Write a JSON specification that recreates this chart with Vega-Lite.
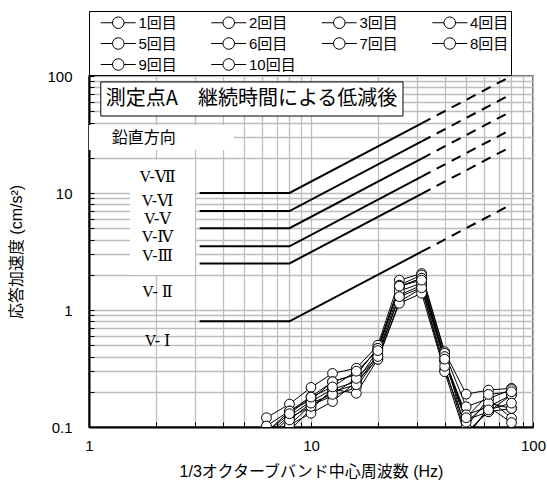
{
  "$schema": "https://vega.github.io/schema/vega-lite/v6.json",
  "width": 444,
  "height": 351,
  "autosize": {"type": "none"},
  "padding": {"left": 89, "top": 76, "right": 14, "bottom": 61},
  "config": {
    "view": {"stroke": "#333333", "strokeWidth": 1.5},
    "font": "Liberation Sans, Noto Sans CJK JP",
    "axis": {
      "grid": true,
      "gridColor": "#bdbdbd",
      "gridWidth": 1.3,
      "domainColor": "black",
      "domainWidth": 2,
      "tickColor": "black",
      "tickSize": -5,
      "labelFontSize": 15,
      "labelColor": "black",
      "labelFont": "Liberation Sans",
      "labelOverlap": false,
      "labelFlush": false,
      "titleFontSize": 16,
      "titleFontWeight": "normal",
      "titleColor": "black",
      "titleFont": "Liberation Sans, Noto Sans CJK JP"
    }
  },
  "datasets": {
    "meas": [
      {"f": 6.3, "1回目": 0.12, "2回目": 0.102, "3回目": 0.085, "4回目": 0.07, "5回目": 0.075, "6回目": 0.06, "7回目": 0.09, "8回目": 0.08, "9回目": 0.07, "10回目": 0.09},
      {"f": 8, "1回目": 0.157, "2回目": 0.137, "3回目": 0.125, "4回目": 0.104, "5回目": 0.093, "6回目": 0.104, "7回目": 0.137, "8回目": 0.12, "9回目": 0.115, "10回目": 0.13},
      {"f": 10, "1回目": 0.218, "2回目": 0.181, "3回目": 0.165, "4回目": 0.154, "5回目": 0.142, "6回目": 0.131, "7回目": 0.17, "8回目": 0.15, "9回目": 0.16, "10回目": 0.18},
      {"f": 12.5, "1回目": 0.287, "2回目": 0.244, "3回目": 0.21, "4回目": 0.184, "5回目": 0.21, "6回目": 0.165, "7回目": 0.244, "8回目": 0.2, "9回目": 0.19, "10回目": 0.22},
      {"f": 16, "1回目": 0.318, "2回目": 0.282, "3回目": 0.244, "4回目": 0.218, "5回目": 0.194, "6回目": 0.244, "7回目": 0.282, "8回目": 0.23, "9回目": 0.26, "10回目": 0.3},
      {"f": 20, "1回目": 0.5, "2回目": 0.47, "3回目": 0.45, "4回目": 0.4, "5回目": 0.38, "6回目": 0.379, "7回目": 0.47, "8回目": 0.42, "9回目": 0.4, "10回目": 0.45},
      {"f": 25, "1回目": 1.8, "2回目": 1.63, "3回目": 1.58, "4回目": 1.34, "5回目": 1.18, "6回目": 1.14, "7回目": 1.58, "8回目": 1.45, "9回目": 1.3, "10回目": 1.6},
      {"f": 31.5, "1回目": 2.05, "2回目": 1.99, "3回目": 1.87, "4回目": 1.63, "5回目": 1.53, "6回目": 1.39, "7回目": 1.87, "8回目": 1.7, "9回目": 1.55, "10回目": 1.8},
      {"f": 40, "1回目": 0.44, "2回目": 0.427, "3回目": 0.374, "4回目": 0.374, "5回目": 0.307, "6回目": 0.297, "7回目": 0.4, "8回目": 0.36, "9回目": 0.33, "10回目": 0.38},
      {"f": 50, "1回目": 0.191, "2回目": 0.149, "3回目": 0.127, "4回目": 0.115, "5回目": 0.1, "6回目": 0.08, "7回目": 0.09, "8回目": 0.11, "9回目": 0.085, "10回目": 0.12},
      {"f": 63, "1回目": 0.207, "2回目": 0.175, "3回目": 0.149, "4回目": 0.135, "5回目": 0.175, "6回目": 0.149, "7回目": 0.135, "8回目": 0.16, "9回目": 0.14, "10回目": 0.19},
      {"f": 80, "1回目": 0.214, "2回目": 0.209, "3回目": 0.188, "4回目": 0.144, "5回目": 0.119, "6回目": 0.109, "7回目": 0.188, "8回目": 0.144, "9回目": 0.16, "10回目": 0.2}
    ],
    "guideSolid": [
      {"lv": "Ⅶ", "f": 3.15, "a": 10}, {"lv": "Ⅶ", "f": 8, "a": 10}, {"lv": "Ⅶ", "f": 31.5, "a": 39.4},
      {"lv": "Ⅵ", "f": 3.15, "a": 7}, {"lv": "Ⅵ", "f": 8, "a": 7}, {"lv": "Ⅵ", "f": 31.5, "a": 27.6},
      {"lv": "Ⅴ", "f": 3.15, "a": 5}, {"lv": "Ⅴ", "f": 8, "a": 5}, {"lv": "Ⅴ", "f": 31.5, "a": 19.7},
      {"lv": "Ⅳ", "f": 3.15, "a": 3.5}, {"lv": "Ⅳ", "f": 8, "a": 3.5}, {"lv": "Ⅳ", "f": 31.5, "a": 13.8},
      {"lv": "Ⅲ", "f": 3.15, "a": 2.5}, {"lv": "Ⅲ", "f": 8, "a": 2.5}, {"lv": "Ⅲ", "f": 31.5, "a": 9.84},
      {"lv": "Ⅱ", "f": 3.15, "a": 0.8}, {"lv": "Ⅱ", "f": 8, "a": 0.8}, {"lv": "Ⅱ", "f": 31.5, "a": 3.15}
    ],
    "guideDash": [
      {"lv": "Ⅶ", "f": 31.5, "a": 39.4}, {"lv": "Ⅶ", "f": 80, "a": 100},
      {"lv": "Ⅵ", "f": 31.5, "a": 27.6}, {"lv": "Ⅵ", "f": 80, "a": 70},
      {"lv": "Ⅴ", "f": 31.5, "a": 19.7}, {"lv": "Ⅴ", "f": 80, "a": 50},
      {"lv": "Ⅳ", "f": 31.5, "a": 13.8}, {"lv": "Ⅳ", "f": 80, "a": 35},
      {"lv": "Ⅲ", "f": 31.5, "a": 9.84}, {"lv": "Ⅲ", "f": 80, "a": 25},
      {"lv": "Ⅱ", "f": 31.5, "a": 3.15}, {"lv": "Ⅱ", "f": 80, "a": 8}
    ]
  },
  "encoding": {
    "x": {
      "field": "f", "type": "quantitative",
      "scale": {"type": "log", "domain": [1, 100], "nice": false},
      "axis": {
        "title": "1/3オクターブバンド中心周波数 (Hz)",
        "values": [1, 2, 3, 4, 5, 6, 7, 8, 9, 10, 20, 30, 40, 50, 60, 70, 80, 90, 100],
        "format": "~g",
        "labelExpr": "datum.value == 1 || datum.value == 10 || datum.value == 100 ? datum.label : ''",
        "labelPadding": 16,
        "titlePadding": 10
      }
    },
    "y": {
      "field": "a", "type": "quantitative",
      "scale": {"type": "log", "domain": [0.1, 100], "nice": false},
      "axis": {
        "title": "応答加速度 (cm/s²)",
        "values": [0.1, 0.2, 0.3, 0.4, 0.5, 0.6, 0.7, 0.8, 0.9, 1, 2, 3, 4, 5, 6, 7, 8, 9, 10, 20, 30, 40, 50, 60, 70, 80, 90, 100],
        "format": "~g",
        "labelExpr": "datum.value == 0.1 || datum.value == 1 || datum.value == 10 || datum.value == 100 ? datum.label : ''",
        "labelPadding": 22,
        "titlePadding": 22
      }
    }
  },
  "layer": [
    {
      "data": {"values": [{"f1": 1.13, "f2": 25.97, "a1": 45.5, "a2": 88.9}]},
      "mark": {"type": "rect", "fill": "white", "stroke": "black", "strokeWidth": 1},
      "encoding": {
        "x": {"field": "f1", "type": "quantitative"},
        "x2": {"field": "f2"},
        "y": {"field": "a1", "type": "quantitative"},
        "y2": {"field": "a2"}
      }
    },
    {
      "data": {"values": [{"f1": 1.0, "f2": 4.5, "a1": 23.3, "a2": 38.1}, {"f1": 1.53, "f2": 3.0, "a1": 1.99, "a2": 19.1}]},
      "mark": {"type": "rect", "fill": "white", "strokeWidth": 0},
      "encoding": {
        "x": {"field": "f1", "type": "quantitative"},
        "x2": {"field": "f2"},
        "y": {"field": "a1", "type": "quantitative"},
        "y2": {"field": "a2"}
      }
    },
    {
      "data": {"name": "guideSolid"},
      "mark": {"type": "line", "color": "black", "strokeWidth": 2},
      "encoding": {"detail": {"field": "lv"}}
    },
    {
      "data": {"name": "guideDash"},
      "mark": {"type": "line", "color": "black", "strokeWidth": 2, "strokeDash": [10, 7]},
      "encoding": {"detail": {"field": "lv"}}
    },
    {
      "data": {"name": "meas"},
      "transform": [{"fold": ["1回目", "2回目", "3回目", "4回目", "5回目", "6回目", "7回目", "8回目", "9回目", "10回目"], "as": ["n", "a"]}],
      "mark": {"type": "line", "strokeWidth": 1, "clip": true},
      "encoding": {
        "stroke": {"field": "n", "type": "nominal", "scale": {"domain": ["1回目", "2回目", "3回目", "4回目", "5回目", "6回目", "7回目", "8回目", "9回目", "10回目"], "range": ["black", "black", "black", "black", "black", "black", "black", "black", "black", "black"]}}
      }
    },
    {
      "data": {"name": "meas"},
      "transform": [{"fold": ["1回目", "2回目", "3回目", "4回目", "5回目", "6回目", "7回目", "8回目", "9回目", "10回目"], "as": ["n", "a"]}],
      "mark": {"type": "point", "filled": false, "fill": "white", "fillOpacity": 1, "opacity": 1, "size": 95, "strokeWidth": 1, "clip": true},
      "encoding": {
        "stroke": {
          "field": "n", "type": "nominal",
          "legend": {
            "title": null,
            "orient": "none",
            "legendX": 0,
            "legendY": -65,
            "direction": "horizontal",
            "columns": 4,
            "gridAlign": "all",
            "columnPadding": 15.5,
            "rowPadding": 3,
            "padding": 2,
            "strokeColor": "black",
            "fillColor": "white",
            "symbolType": "M-2,0H-0.66M0.66,0H2M0.66,0A0.66,0.66,0,1,1,-0.66,0A0.66,0.66,0,1,1,0.66,0",
            "symbolSize": 306,
            "symbolOffset": 17.75,
            "symbolStrokeWidth": 1,
            "symbolFillColor": "white",
            "labelFontSize": 15,
            "labelFont": "Liberation Sans, Noto Sans CJK JP",
            "labelColor": "black",
            "labelOffset": 10.75
          }
        }
      }
    },
    {
      "data": {"values": [{"t": "測定点A　継続時間による低減後", "f": 1.19, "a": 63.5}]},
      "mark": {"type": "text", "align": "left", "baseline": "middle", "fontSize": 20, "font": "Noto Sans CJK JP", "color": "black"},
      "encoding": {"text": {"field": "t"}}
    },
    {
      "data": {"values": [{"t": "鉛直方向", "f": 1.265, "a": 29.5}]},
      "mark": {"type": "text", "align": "left", "baseline": "middle", "fontSize": 16, "font": "Noto Sans CJK JP", "color": "black"},
      "encoding": {"text": {"field": "t"}}
    },
    {
      "data": {"values": [
        {"t": "V-Ⅶ", "f": 2.035, "a": 13.8},
        {"t": "V-Ⅵ", "f": 2.035, "a": 8.55},
        {"t": "V-Ⅴ", "f": 2.035, "a": 6.0},
        {"t": "V-Ⅳ", "f": 2.035, "a": 4.21},
        {"t": "V-Ⅲ", "f": 2.035, "a": 2.89},
        {"t": "V- Ⅱ", "f": 2.035, "a": 1.425},
        {"t": "V- Ⅰ", "f": 2.035, "a": 0.543}
      ]},
      "mark": {"type": "text", "align": "center", "baseline": "middle", "fontSize": 16, "font": "Liberation Serif, DejaVu Serif, Noto Sans CJK JP", "color": "black"},
      "encoding": {"text": {"field": "t"}}
    }
  ]
}
